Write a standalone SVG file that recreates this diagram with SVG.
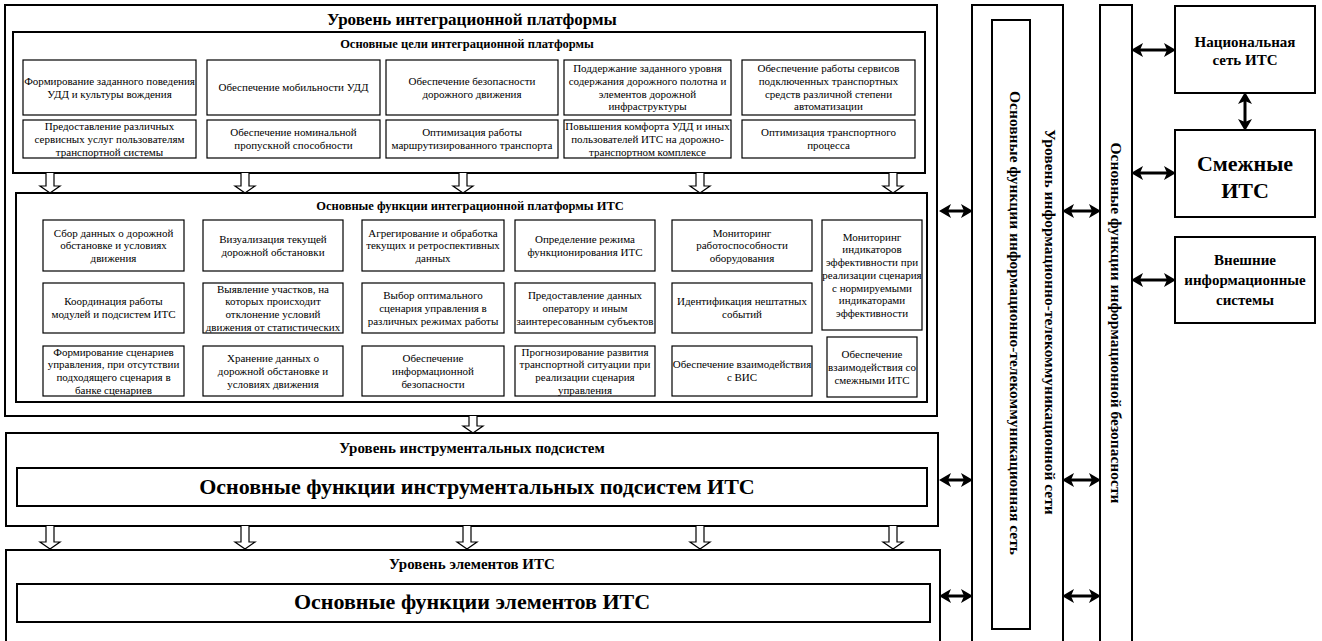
<svg xmlns="http://www.w3.org/2000/svg" width="1322" height="641" viewBox="0 0 1322 641">
<style>
.f{font-family:'Liberation Serif',serif;fill:#000}
.b{font-weight:bold}
.m{text-anchor:middle}
.s{font-size:11px}
.outer{fill:#fff;stroke:#000;stroke-width:2}
.box{fill:#fff;stroke:#000;stroke-width:1.2}
.ha{fill:#fff;stroke:#000;stroke-width:1.2}
.da{fill:none;stroke:#000;stroke-width:3}
</style>
<defs>
<marker id="ah" markerUnits="userSpaceOnUse" markerWidth="12" markerHeight="14" viewBox="0 0 12 14" refX="5" refY="7" orient="auto-start-reverse">
<path d="M0,0 L12,7 L0,14 L3,7 Z" fill="#000"/>
</marker>
</defs>

<g id="level-platform">
<rect class="outer" x="5" y="5" width="932" height="411"/>
<text class="f b m" x="472" y="25" font-size="17">Уровень интеграционной платформы</text>
</g>

<g id="goals">
<rect class="outer" x="13" y="32" width="912" height="141"/>
<text class="f b m" x="467" y="48" font-size="12.5">Основные цели интеграционной платформы</text>
</g>

<g id="goal-1"><rect class="box" x="23" y="60" width="173" height="55"/><text class="f m s" x="109.5" y="84.9">Формирование заданного поведения<tspan x="109.5" dy="12.7">УДД и культуры вождения</tspan></text></g>
<g id="goal-2"><rect class="box" x="207" y="60" width="173" height="55"/><text class="f m s" x="293.5" y="91.3">Обеспечение мобильности УДД</text></g>
<g id="goal-3"><rect class="box" x="386" y="60" width="172" height="55"/><text class="f m s" x="472" y="84.9">Обеспечение безопасности<tspan x="472" dy="12.7">дорожного движения</tspan></text></g>
<g id="goal-4"><rect class="box" x="564" y="60" width="167" height="55"/><text class="f m s" x="647.5" y="72.2">Поддержание заданного уровня<tspan x="647.5" dy="12.7">содержания дорожного полотна и</tspan><tspan x="647.5" dy="12.7">элементов дорожной</tspan><tspan x="647.5" dy="12.7">инфраструктуры</tspan></text></g>
<g id="goal-5"><rect class="box" x="742" y="60" width="173" height="55"/><text class="f m s" x="828.5" y="72.2">Обеспечение работы сервисов<tspan x="828.5" dy="12.7">подключенных транспортных</tspan><tspan x="828.5" dy="12.7">средств различной степени</tspan><tspan x="828.5" dy="12.7">автоматизации</tspan></text></g>
<g id="goal-6"><rect class="box" x="23" y="120" width="173" height="38"/><text class="f m s" x="109.5" y="130.1">Предоставление различных<tspan x="109.5" dy="12.7">сервисных услуг пользователям</tspan><tspan x="109.5" dy="12.7">транспортной системы</tspan></text></g>
<g id="goal-7"><rect class="box" x="207" y="120" width="173" height="38"/><text class="f m s" x="293.5" y="136.4">Обеспечение номинальной<tspan x="293.5" dy="12.7">пропускной способности</tspan></text></g>
<g id="goal-8"><rect class="box" x="386" y="120" width="172" height="38"/><text class="f m s" x="472" y="136.4">Оптимизация работы<tspan x="472" dy="12.7">маршрутизированного транспорта</tspan></text></g>
<g id="goal-9"><rect class="box" x="564" y="120" width="167" height="38"/><text class="f m s" x="647.5" y="130.1">Повышения комфорта УДД и иных<tspan x="647.5" dy="12.7">пользователей ИТС на дорожно-</tspan><tspan x="647.5" dy="12.7">транспортном комплексе</tspan></text></g>
<g id="goal-10"><rect class="box" x="742" y="120" width="173" height="38"/><text class="f m s" x="828.5" y="136.4">Оптимизация транспортного<tspan x="828.5" dy="12.7">процесса</tspan></text></g>

<g id="functions">
<rect class="outer" x="16" y="193" width="911" height="209"/>
<text class="f b m" x="470" y="210" font-size="12.5">Основные функции интеграционной платформы ИТС</text>
</g>

<g id="func-1"><rect class="box" x="43" y="220" width="141" height="51"/><text class="f m s" x="113.5" y="236.6">Сбор данных о дорожной<tspan x="113.5" dy="12.7">обстановке и условиях</tspan><tspan x="113.5" dy="12.7">движения</tspan></text></g>
<g id="func-2"><rect class="box" x="203" y="220" width="140" height="51"/><text class="f m s" x="273" y="242.9">Визуализация текущей<tspan x="273" dy="12.7">дорожной обстановки</tspan></text></g>
<g id="func-3"><rect class="box" x="362" y="220" width="142" height="51"/><text class="f m s" x="433" y="236.6">Агрегирование и обработка<tspan x="433" dy="12.7">текущих и ретроспективных</tspan><tspan x="433" dy="12.7">данных</tspan></text></g>
<g id="func-4"><rect class="box" x="515" y="220" width="140" height="51"/><text class="f m s" x="585" y="242.9">Определение режима<tspan x="585" dy="12.7">функционирования ИТС</tspan></text></g>
<g id="func-5"><rect class="box" x="672" y="220" width="140" height="51"/><text class="f m s" x="742" y="236.6">Мониторинг<tspan x="742" dy="12.7">работоспособности</tspan><tspan x="742" dy="12.7">оборудования</tspan></text></g>
<g id="func-6"><rect class="box" x="822" y="220" width="100" height="110"/><text class="f m s" x="872" y="240.7">Мониторинг<tspan x="872" dy="12.7">индикаторов</tspan><tspan x="872" dy="12.7">эффективности при</tspan><tspan x="872" dy="12.7">реализации сценария</tspan><tspan x="872" dy="12.7">с нормируемыми</tspan><tspan x="872" dy="12.7">индикаторами</tspan><tspan x="872" dy="12.7">эффективности</tspan></text></g>
<g id="func-7"><rect class="box" x="43" y="283" width="141" height="50"/><text class="f m s" x="113.5" y="305.4">Координация работы<tspan x="113.5" dy="12.7">модулей и подсистем ИТС</tspan></text></g>
<g id="func-8"><rect class="box" x="203" y="283" width="140" height="50"/><text class="f m s" x="273" y="292.7">Выявление участков, на<tspan x="273" dy="12.7">которых происходит</tspan><tspan x="273" dy="12.7">отклонение условий</tspan><tspan x="273" dy="12.7">движения от статистических</tspan></text></g>
<g id="func-9"><rect class="box" x="362" y="283" width="142" height="50"/><text class="f m s" x="433" y="299.1">Выбор оптимального<tspan x="433" dy="12.7">сценария управления в</tspan><tspan x="433" dy="12.7">различных режимах работы</tspan></text></g>
<g id="func-10"><rect class="box" x="515" y="283" width="140" height="50"/><text class="f m s" x="585" y="299.1">Предоставление данных<tspan x="585" dy="12.7">оператору и иным</tspan><tspan x="585" dy="12.7">заинтересованным субъектов</tspan></text></g>
<g id="func-11"><rect class="box" x="672" y="283" width="140" height="50"/><text class="f m s" x="742" y="305.4">Идентификация нештатных<tspan x="742" dy="12.7">событий</tspan></text></g>
<g id="func-12"><rect class="box" x="43" y="346" width="141" height="50"/><text class="f m s" x="113.5" y="355.7">Формирование сценариев<tspan x="113.5" dy="12.7">управления, при отсутствии</tspan><tspan x="113.5" dy="12.7">подходящего сценария в</tspan><tspan x="113.5" dy="12.7">банке сценариев</tspan></text></g>
<g id="func-13"><rect class="box" x="203" y="346" width="140" height="50"/><text class="f m s" x="273" y="362.1">Хранение данных о<tspan x="273" dy="12.7">дорожной обстановке и</tspan><tspan x="273" dy="12.7">условиях движения</tspan></text></g>
<g id="func-14"><rect class="box" x="362" y="346" width="142" height="50"/><text class="f m s" x="433" y="362.1">Обеспечение<tspan x="433" dy="12.7">информационной</tspan><tspan x="433" dy="12.7">безопасности</tspan></text></g>
<g id="func-15"><rect class="box" x="515" y="346" width="140" height="50"/><text class="f m s" x="585" y="355.7">Прогнозирование развития<tspan x="585" dy="12.7">транспортной ситуации при</tspan><tspan x="585" dy="12.7">реализации сценария</tspan><tspan x="585" dy="12.7">управления</tspan></text></g>
<g id="func-16"><rect class="box" x="672" y="346" width="140" height="50"/><text class="f m s" x="742" y="368.4">Обеспечение взаимодействия<tspan x="742" dy="12.7">с ВИС</tspan></text></g>
<g id="func-17"><rect class="box" x="827" y="337" width="90" height="60"/><text class="f m s" x="872" y="358.1">Обеспечение<tspan x="872" dy="12.7">взаимодействия со</tspan><tspan x="872" dy="12.7">смежными ИТС</tspan></text></g>

<g id="level-instrumental">
<rect class="outer" x="6" y="433" width="932" height="93"/>
<text class="f b m" x="472" y="453" font-size="15">Уровень инструментальных подсистем</text>
<rect class="outer" x="17" y="468" width="910" height="38"/>
<text class="f b m" x="477" y="494" font-size="22">Основные функции инструментальных подсистем ИТС</text>
</g>

<g id="level-elements">
<rect class="outer" x="6" y="550" width="934" height="100"/>
<text class="f b m" x="472" y="569" font-size="15">Уровень элементов ИТС</text>
<rect class="outer" x="17" y="584" width="913" height="38"/>
<text class="f b m" x="472" y="609" font-size="22">Основные функции элементов ИТС</text>
</g>

<g id="level-telecom">
<rect class="outer" x="972" y="5" width="91" height="650"/>
<text class="f b m" font-size="15.5" transform="translate(1045,322) rotate(90)">Уровень информационно-телекоммуникационной сети</text>
<rect class="outer" x="992" y="20" width="38" height="609"/>
<text class="f b m" font-size="15.5" transform="translate(1010,323) rotate(90)">Основные функции информационно-телекоммуникационная сеть</text>
</g>

<g id="security">
<rect class="outer" x="1100" y="5" width="32" height="650"/>
<text class="f b m" font-size="15.5" transform="translate(1111,323) rotate(90)">Основные функции информационной безопасности</text>
</g>

<g id="national-its">
<rect class="outer" x="1175" y="6" width="140" height="87"/>
<text class="f b m" x="1245" y="47" font-size="15">Национальная<tspan x="1245" dy="18">сеть ИТС</tspan></text>
</g>
<g id="adjacent-its">
<rect class="outer" x="1175" y="130" width="140" height="87"/>
<text class="f b m" x="1245" y="171" font-size="22">Смежные<tspan x="1245" dy="27">ИТС</tspan></text>
</g>
<g id="external-is">
<rect class="outer" x="1175" y="237" width="140" height="86"/>
<text class="f b m" x="1245" y="265" font-size="15">Внешние<tspan x="1245" dy="20">информационные</tspan><tspan x="1245" dy="20">системы</tspan></text>
</g>

<g id="connectors">
<path class="ha" d="M46,173 V186 H40 L50,193 L60,186 H54 V173"/>
<path class="ha" d="M241,173 V186 H235 L245,193 L255,186 H249 V173"/>
<path class="ha" d="M459,173 V186 H453 L463,193 L473,186 H467 V173"/>
<path class="ha" d="M696,173 V186 H690 L700,193 L710,186 H704 V173"/>
<path class="ha" d="M889,173 V186 H883 L893,193 L903,186 H897 V173"/>
<path class="ha" d="M469,416 V426 H463 L473,433 L483,426 H477 V416"/>
<path class="ha" d="M46,526 V542 H40 L50,549 L60,542 H54 V526"/>
<path class="ha" d="M241,526 V542 H235 L245,549 L255,542 H249 V526"/>
<path class="ha" d="M463,526 V542 H457 L467,549 L477,542 H471 V526"/>
<path class="ha" d="M696,526 V542 H690 L700,549 L710,542 H704 V526"/>
<path class="ha" d="M889,526 V542 H883 L893,549 L903,542 H897 V526"/>
<line class="da" x1="946" y1="211" x2="966" y2="211" marker-start="url(#ah)" marker-end="url(#ah)"/>
<line class="da" x1="946" y1="480" x2="966" y2="480" marker-start="url(#ah)" marker-end="url(#ah)"/>
<line class="da" x1="946" y1="596" x2="966" y2="596" marker-start="url(#ah)" marker-end="url(#ah)"/>
<line class="da" x1="1069" y1="211" x2="1094" y2="211" marker-start="url(#ah)" marker-end="url(#ah)"/>
<line class="da" x1="1069" y1="480" x2="1094" y2="480" marker-start="url(#ah)" marker-end="url(#ah)"/>
<line class="da" x1="1069" y1="596" x2="1094" y2="596" marker-start="url(#ah)" marker-end="url(#ah)"/>
<line class="da" x1="1138" y1="50" x2="1169" y2="50" marker-start="url(#ah)" marker-end="url(#ah)"/>
<line class="da" x1="1138" y1="173" x2="1169" y2="173" marker-start="url(#ah)" marker-end="url(#ah)"/>
<line class="da" x1="1138" y1="280" x2="1169" y2="280" marker-start="url(#ah)" marker-end="url(#ah)"/>
<line class="da" x1="1245" y1="99" x2="1245" y2="124" marker-start="url(#ah)" marker-end="url(#ah)"/>
</g>
</svg>
